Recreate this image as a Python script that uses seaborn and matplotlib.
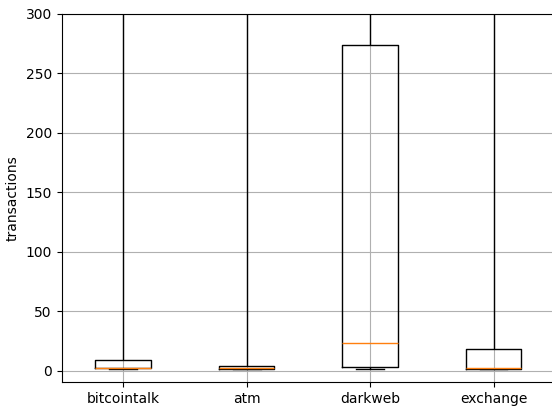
import numpy as np
import pandas as pd
import matplotlib
matplotlib.use("Agg")
import matplotlib.pyplot as plt
import seaborn as sns

# Five-number summaries per source: min, Q1, median, Q3, max
categories = ["bitcointalk", "atm", "darkweb", "exchange"]
bitcointalk = [1, 2, 2.5, 9, 5000]
atm = [1, 1.5, 2, 3.5, 5000]
darkweb = [1, 3, 23, 274, 5000]
exchange = [1, 1, 2.5, 18, 5000]

df = pd.DataFrame({
    "source": np.repeat(categories, 5),
    "transactions": bitcointalk + atm + darkweb + exchange,
})

plt.rcParams.update(plt.rcParamsDefault)
fig, ax = plt.subplots(figsize=(5.52, 4.07), dpi=100)
fig.subplots_adjust(left=0.1115, right=1.006, top=0.966, bottom=0.061)

sns.boxplot(
    data=df, x="source", y="transactions", order=categories,
    ax=ax, fill=False, color="black", width=0.45, whis=(0, 100),
    linewidth=1, showfliers=False,
    medianprops=dict(color="#ff7f0e", linewidth=1),
    boxprops=dict(color="black"), whiskerprops=dict(color="black"),
    capprops=dict(color="black"),
)

ax.set_ylim(-9.8, 300)
ax.set_xlim(-0.5, 3.5)
ax.set_xlabel("")
ax.set_ylabel("transactions")
ax.grid(True, color="#b0b0b0", linewidth=0.8)
ax.set_axisbelow(True)
for s in ax.spines.values():
    s.set_visible(True)
    s.set_color("black")

fig.savefig("out.png", dpi=100)
